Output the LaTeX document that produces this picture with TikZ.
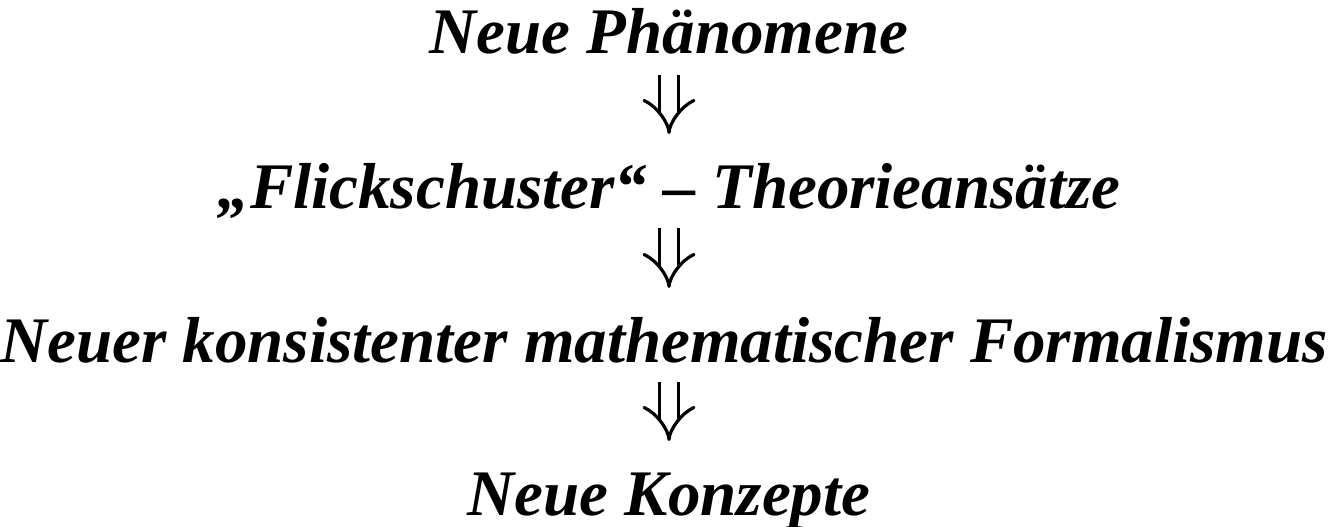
\documentclass[tikz,border=0pt]{standalone}
\usepackage{fontspec}
\setmainfont{Liberation Serif}
\usetikzlibrary{arrows.meta}

\begin{document}
\begin{tikzpicture}[x=0.5pt,y=-0.5pt,
    phase/.style={inner sep=0pt,anchor=base,font=\fontsize{32.5pt}{39pt}\selectfont\bfseries\itshape},
    impl/.style={line width=1.6pt,double distance=7.8pt,-{Implies},xshift=1.5pt}]
        \useasboundingbox (0,0) rectangle (1328,526);
        \node[phase] (l1) at (669,53) {Neue Phänomene};
        \node[phase] (l2) at (669,208) {„Flickschuster“ – Theorieansätze};
        \node[phase] (l3) at (664,362) {Neuer konsistenter mathematischer Formalismus};
        \node[phase] (l4) at (669,515) {Neue Konzepte};
        \draw[impl,shorten <=11pt,shorten >=37pt] (l1.base) -- (l1.base |- l2.base);
        \draw[impl,shorten <=10pt,shorten >=37pt] (l2.base) -- (l2.base |- l3.base);
        \draw[impl,shorten <=10pt,shorten >=37pt] (l4.base |- l3.base) -- (l4.base);
      \end{tikzpicture}
\end{document}
